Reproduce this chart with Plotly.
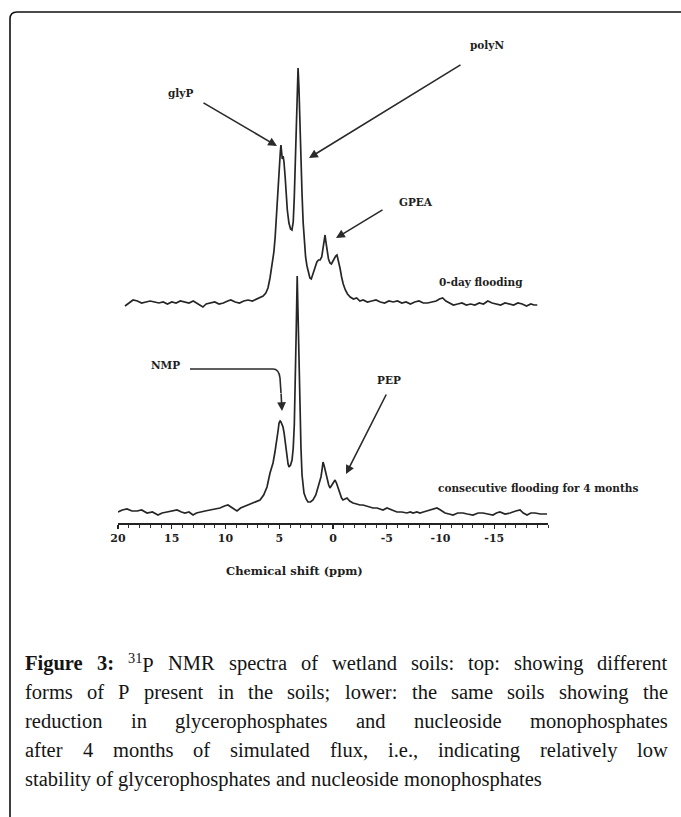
import plotly.graph_objects as go

# ---------------- data ----------------
# top spectrum: 0-day flooding (intensity above its own baseline)
top_ppm = [19.35, 19.0, 18.6, 18.2, 17.8, 17.4, 17.0, 16.6, 16.2, 15.8, 15.4, 15.0, 14.6, 14.2, 13.8, 13.4,
           13.0, 12.6, 12.1, 11.8, 11.4, 11.0, 10.6, 10.2, 9.8, 9.5, 9.1, 8.7, 8.3, 7.9, 7.5, 7.1, 6.8, 6.5,
           6.25, 6.05, 5.86, 5.67, 5.50, 5.38, 5.21, 5.10, 5.00, 4.90, 4.84, 4.78, 4.72, 4.64, 4.56, 4.45,
           4.37, 4.25, 4.10, 3.95, 3.82, 3.70, 3.60, 3.50, 3.40, 3.32, 3.25, 3.17, 3.08, 2.98, 2.88, 2.78,
           2.66, 2.55, 2.42, 2.30, 2.15, 2.02, 1.85, 1.67, 1.50, 1.35, 1.20, 1.05, 0.93, 0.82, 0.74, 0.66,
           0.56, 0.42, 0.28, 0.15, 0.05, -0.10, -0.25, -0.37, -0.50, -0.65, -0.80, -0.95, -1.15, -1.35,
           -1.60, -1.90, -2.2, -2.5, -2.8, -3.2, -3.6, -4.0, -4.4, -4.8, -5.2, -5.6, -6.0, -6.4, -6.8,
           -7.2, -7.6, -8.0, -8.4, -8.8, -9.2, -9.6, -9.9, -10.2, -10.5, -10.8, -11.2, -11.6, -12.0,
           -12.4, -12.8, -13.2, -13.6, -14.0, -14.4, -14.8, -15.2, -15.6, -16.0, -16.4, -16.8, -17.2,
           -17.6, -18.0, -18.4, -18.7, -19.0]
top_int = [-4, -1, 2, 1, -1, 0, 1, 0, -1, 0, -2, 0, -1, 1, 0, -1,
           1, -2, -5, -2, -1, 0, -2, -1, 1, 2, 0, -1, 1, 2, 1, 3, 4, 6,
           9, 14, 24, 36, 50, 65, 99, 118, 135, 150, 157, 150, 143, 146, 140, 125,
           112, 92, 79, 73, 72, 80, 105, 140, 185, 220, 234, 215, 175, 135, 108, 80,
           58, 45, 36, 29, 24, 23, 28, 35, 40, 42, 42, 45, 55, 64, 67, 60,
           52, 43, 39, 38, 40, 44, 46, 47, 42, 34, 25, 18, 12, 8,
           5, 3, 4, 1, 2, 0, 1, 2, 0, -1, 1, 0, 1, -1, 0,
           -2, 0, 1, -1, -1, 0, 1, 3, 4, 1, -1, -3, -2, -1,
           -3, -2, -3, -1, -2, 1, -1, -2, -3, -1, -2, -3, -1,
           -2, -4, -2, -3, -3]

# lower spectrum: consecutive flooding for 4 months
low_ppm = [20.0, 19.6, 19.16, 18.7, 18.23, 17.8, 17.3, 16.8, 16.28, 15.9, 15.44, 15.0, 14.51, 14.1, 13.77,
           13.4, 13.02, 12.7, 12.37, 11.9, 11.44, 11.0, 10.51, 10.1, 9.77, 9.35, 8.93, 8.6, 8.37, 7.9, 7.44,
           7.1, 6.79, 6.45, 6.14, 5.86, 5.58, 5.40, 5.21, 5.10, 5.02, 4.92, 4.84, 4.74, 4.65, 4.55, 4.47,
           4.38, 4.28, 4.18, 4.09, 3.95, 3.81, 3.70, 3.60, 3.50, 3.42, 3.33, 3.24, 3.16, 3.08, 2.98, 2.88,
           2.78, 2.70, 2.50, 2.33, 2.10, 1.86, 1.60, 1.40, 1.25, 1.12, 1.02, 0.93, 0.84, 0.74, 0.56, 0.40,
           0.28, 0.15, 0.0, -0.19, -0.32, -0.47, -0.65, -0.80, -0.93, -1.10, -1.30, -1.55, -1.86, -2.2,
           -2.5, -2.79, -3.1, -3.4, -3.72, -4.1, -4.4, -4.65, -5.02, -5.5, -5.95, -6.4, -6.88, -7.2, -7.44,
           -7.8, -8.09, -8.4, -8.74, -9.2, -9.67, -10.0, -10.42, -10.8, -11.16, -11.6, -12.09, -12.5,
           -13.02, -13.5, -13.95, -14.4, -14.88, -15.2, -15.53, -16.0, -16.47, -17.0, -17.4, -17.7,
           -18.05, -18.4, -18.79, -19.3, -19.91]
low_int = [-2, 0, 1, -1, -1, 0, -3, -2, -5, -3, -2, -1, 0, -2, -3,
           -2, -5, -3, -2, -1, 0, 1, 2, 4, 5, 2, -1, 2, 3, 5, 7,
           8, 10, 15, 23, 37, 47, 58, 70, 80, 87, 89, 88, 86, 83, 77, 70,
           60, 53, 46, 43, 45, 50, 62, 85, 125, 180, 234, 190, 130, 90, 62, 35,
           24, 17, 11, 8, 8, 10, 15, 22, 28, 33, 40, 48, 45, 40, 33, 25,
           22, 24, 27, 30, 27, 22, 16, 12, 10, 11, 12, 9, 7, 6,
           5, 5, 4, 3, 2, 2, 1, 0, 2, 0, -2, -2, -3, -2, -3,
           -2, -3, -2, -1, 0, 2, 0, -3, -4, -5, -3, -3, -4,
           -5, -3, -3, -4, -5, -3, -2, -4, -3, -1, 0, -3,
           -5, -3, -3, -4, -4]

tick_vals = [20, 15, 10, 5, 0, -5, -10, -15]
tick_text = ["20", "15", "10", "5", "0", "-5", "-10", "-15"]

peak_labels = ["glyP", "polyN", "GPEA", "NMP", "PEP"]
spectrum_labels = ["0-day flooding", "consecutive flooding for 4 months"]
axis_title = "Chemical shift (ppm)"

caption_lines = [
    [("Figure", "b"), ("3:", "b"), ("31|P", "sup"), ("NMR", "r"), ("spectra", "r"), ("of", "r"),
     ("wetland", "r"), ("soils:", "r"), ("top:", "r"), ("showing", "r"), ("different", "r")],
    [(w, "r") for w in "forms of P present in the soils; lower: the same soils showing the".split()],
    [(w, "r") for w in "reduction in glycerophosphates and nucleoside monophosphates".split()],
    [(w, "r") for w in "after 4 months of simulated flux, i.e., indicating relatively low".split()],
    [(w, "r") for w in "stability of glycerophosphates and nucleoside monophosphates".split()],
]

# ---------------- layout geometry ----------------
W, H = 681, 817
ML, MR, MT, MB = 118, 133, 60, 294
PW, PH = W - ML - MR, H - MT - MB
TOP_OFFSET = 221
LOW_OFFSET = 13
LINE_COLOR = "#262626"


def px2ppm(px):
    return 20 - (px - ML) * 40.0 / PW


def py2val(py):
    return (H - MB) - py


def pxp(px):
    return (px - ML) / PW


def pyp(py):
    return ((H - MB) - py) / PH


fig = go.Figure()
fig.add_trace(go.Scatter(x=top_ppm, y=[v + TOP_OFFSET for v in top_int], mode="lines",
                         line=dict(color=LINE_COLOR, width=1.7), hoverinfo="skip", showlegend=False))
fig.add_trace(go.Scatter(x=low_ppm, y=[v + LOW_OFFSET for v in low_int], mode="lines",
                         line=dict(color=LINE_COLOR, width=1.7), hoverinfo="skip", showlegend=False))

LBL_FONT = dict(family="DejaVu Serif", size=10.5, color="#1e1e1e")
ann = []


def label(text, px, py, anchor="center"):
    ann.append(dict(x=pxp(px), y=pyp(py), xref="paper", yref="paper", text="<b>%s</b>" % text,
                    showarrow=False, font=LBL_FONT, xanchor=anchor, yanchor="middle"))


def arrow(tail, tip):
    ann.append(dict(x=px2ppm(tip[0]), y=py2val(tip[1]), ax=px2ppm(tail[0]), ay=py2val(tail[1]),
                    xref="x", yref="y", axref="x", ayref="y", text="", showarrow=True,
                    arrowhead=2, arrowsize=1.1, arrowwidth=1.6, arrowcolor="#2a2a2a", standoff=0))


label(peak_labels[0], 180, 93)
arrow((202, 102), (277, 146))
label(peak_labels[1], 487, 45)
arrow((462, 64), (309, 158))
label(peak_labels[2], 416, 202)
arrow((384, 209), (336, 238))
label(peak_labels[3], 165, 365)
arrow((281, 392), (282, 411))
label(peak_labels[4], 389, 380)
arrow((387, 393), (346, 474))
label(spectrum_labels[0], 437, 282, "left")
label(spectrum_labels[1], 436, 488, "left")

ann.append(dict(x=pxp(294), y=pyp(571), xref="paper", yref="paper", text="<b>%s</b>" % axis_title,
                showarrow=False, font=dict(family="DejaVu Serif", size=11.5, color="#1e1e1e"),
                xanchor="center", yanchor="middle"))

# NMP bent arrow line
nmp_path = "M %f,%f L %f,%f Q %f,%f %f,%f L %f,%f" % (
    px2ppm(190), py2val(369), px2ppm(273), py2val(369), px2ppm(279), py2val(369),
    px2ppm(280), py2val(378), px2ppm(281), py2val(393))
shapes = [dict(type="path", path=nmp_path, xref="x", yref="y",
               line=dict(color="#2a2a2a", width=1.6))]

# rounded frame
frame = "M %f,%f L %f,%f Q %f,%f %f,%f L %f,%f" % (
    pxp(10), pyp(830), pxp(10), pyp(19), pxp(10), pyp(12), pxp(17), pyp(12), pxp(700), pyp(12))
shapes.append(dict(type="path", path=frame, xref="paper", yref="paper",
                   line=dict(color="#111111", width=1.6)))

# ---------------- caption (justified, Times metrics) ----------------
REG = dict(zip("abcdefghijklmnopqrstuvwxyz",
               [444, 500, 444, 500, 444, 333, 500, 500, 278, 278, 500, 278, 778, 500, 500, 500, 500,
                333, 389, 278, 500, 500, 722, 500, 500, 444]))
REG.update({"P": 556, "N": 722, "M": 889, "R": 667, ",": 250, ".": 250, ":": 278, ";": 278,
            "0": 500, "1": 500, "2": 500, "3": 500, "4": 500})
BOLD = dict(REG)
BOLD.update({"F": 611, "i": 278, "g": 500, "u": 556, "r": 444, "e": 444, "3": 500, ":": 333})
CAP_FS = 20.5
CAP_L, CAP_R = 23, 666
caption_y = [663, 692, 721, 750, 779]


def token(word, style):
    if style == "b":
        return "<b>%s</b>" % word, sum(BOLD.get(c, 500) for c in word)
    if style == "sup":
        s, rest = word.split("|")
        return "<sup>%s</sup>%s" % (s, rest), 0.7 * sum(REG[c] for c in s) + sum(REG[c] for c in rest)
    return word, sum(REG.get(c, 500) for c in word)


for li, words in enumerate(caption_lines):
    toks = [token(w, s) for w, s in words]
    widths = [t[1] * CAP_FS / 1000.0 for t in toks]
    last = li == len(caption_lines) - 1
    if last:
        gap = 250 * CAP_FS / 1000.0
    else:
        gap = (CAP_R - CAP_L - sum(widths)) / (len(toks) - 1)
    x = CAP_L
    for (html, _), w in zip(toks, widths):
        ann.append(dict(x=pxp(x), y=pyp(caption_y[li]), xref="paper", yref="paper", text=html,
                        showarrow=False, xanchor="left", yanchor="middle",
                        font=dict(family="Liberation Serif", size=CAP_FS, color="#141414")))
        x += w + gap

fig.update_layout(
    width=W, height=H, margin=dict(l=ML, r=MR, t=MT, b=MB, pad=0),
    paper_bgcolor="white", plot_bgcolor="white",
    annotations=ann, shapes=shapes, showlegend=False,
    xaxis=dict(range=[20, -20], showgrid=False, zeroline=False, showline=True,
               linecolor="#222222", linewidth=1.6, ticks="outside", ticklen=4, tickwidth=1.3,
               tickcolor="#222222", tickvals=tick_vals, ticktext=["<b>%s</b>" % t for t in tick_text],
               tickfont=dict(family="DejaVu Serif", size=11, color="#1e1e1e"),
               minor=dict(ticks="outside", dtick=1, tick0=0, ticklen=3, tickwidth=1, tickcolor="#333333"),
               fixedrange=True),
    yaxis=dict(range=[0, PH], visible=False, fixedrange=True),
)

fig.write_html("out.html", post_script="document.body.style.margin='0';",
               config={"displayModeBar": False, "staticPlot": True})
